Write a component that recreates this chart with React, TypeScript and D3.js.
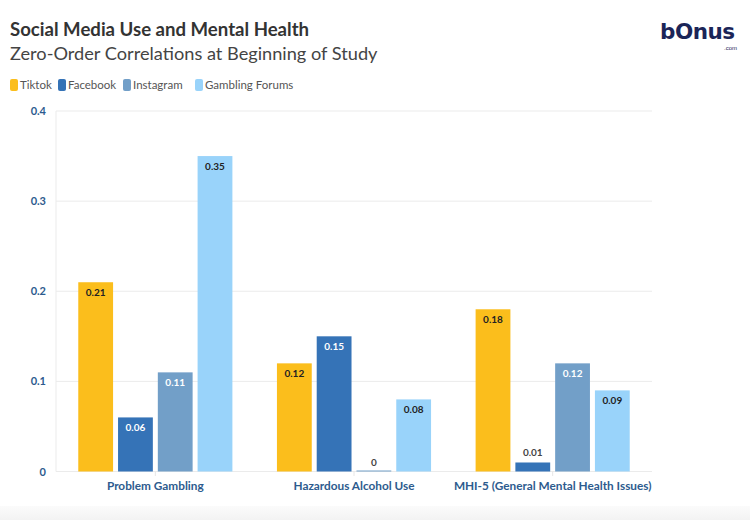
import React, { useEffect } from "react";
import * as d3 from "d3";

const categories = ["Problem Gambling", "Hazardous Alcohol Use", "MHI-5 (General Mental Health Issues)"];
const seriesNames = ["Tiktok", "Facebook", "Instagram", "Gambling Forums"];
const tiktok = [0.21, 0.12, 0.18];
const facebook = [0.06, 0.15, 0.01];
const instagram = [0.11, 0, 0.12];
const gamblingForums = [0.35, 0.08, 0.09];
const yTicks = [0, 0.1, 0.2, 0.3, 0.4];

const colors = ["#FBBE1C", "#3573B7", "#729FC8", "#99D3FA"];
const labelColors = ["#222", "#fff", "#fff", "#222"];

const W = 750;
const H = 520;
const FONT = "Lato, 'Open Sans', sans-serif";

export default function App() {
  useEffect(() => {
    document.body.style.margin = "0";
  }, []);
  const series = [tiktok, facebook, instagram, gamblingForums];
  const x0 = d3.scaleBand<string>().domain(categories).range([56, 652]);
  const x1 = d3
    .scaleBand<string>()
    .domain(seriesNames)
    .range([0, x0.bandwidth()])
    .paddingInner(0.125)
    .paddingOuter(0.56);
  const y = d3.scaleLinear().domain([0, 0.4]).range([471.5, 111]);

  return (
    <svg width={W} height={H} style={{ display: "block", background: "#fff" }}>
      <defs>
        <linearGradient id="bot" x1="0" y1="0" x2="0" y2="1">
          <stop offset="0" stopColor="#fbfbfb" />
          <stop offset="1" stopColor="#f3f3f3" />
        </linearGradient>
      </defs>
      <rect x={0} y={506} width={W} height={14} fill="url(#bot)" />
      <text x={10} y={36} fontFamily={FONT} fontWeight={700} fontSize={18.6} fill="#333">
        Social Media Use and Mental Health
      </text>
      <text x={10} y={60} fontFamily={FONT} fontSize={18.2} fill="#444">
        Zero-Order Correlations at Beginning of Study
      </text>
      {/* logo */}
      <text x={660} y={39} fontFamily="'DejaVu Sans', sans-serif" fontWeight={700} fontSize={21.5} fill="#1B2558" letterSpacing={-0.5}>
        bOnus
      </text>
      <text x={737} y={50} fontFamily="Arial, sans-serif" fontSize={6} fill="#1B2558" textAnchor="end">
        .com
      </text>
      {/* legend */}
      {(() => {
        const xs = [10, 58, 123, 195];
        return seriesNames.map((s, i) => (
          <g key={s}>
            <rect x={xs[i]} y={79} width={8} height={12} rx={2} fill={colors[i]} />
            <text x={xs[i] + 10} y={89} fontFamily={FONT} fontSize={11.5} fill="#555">
              {s}
            </text>
          </g>
        ));
      })()}
      {/* grid */}
      {yTicks.map((t) => (
        <g key={t}>
          <line x1={56} x2={652} y1={y(t)} y2={y(t)} stroke="#ebebeb" strokeWidth={1} />
          <text x={46} y={y(t) + 4} textAnchor="end" fontFamily={FONT} fontWeight={700} fontSize={11} fill="#2D5B8E">
            {t === 0 ? "0" : d3.format(".1f")(t)}
          </text>
        </g>
      ))}
      <line x1={56} x2={56} y1={111} y2={471.5} stroke="#ebebeb" />
      {categories.map((c) => (
        <g key={c}>
          <line x1={x0(c)! + x0.bandwidth() / 2} x2={x0(c)! + x0.bandwidth() / 2} y1={471.5} y2={476} stroke="#e6e6e6" />
          <text
            x={x0(c)! + x0.bandwidth() / 2}
            y={490}
            textAnchor="middle"
            fontFamily={FONT}
            fontWeight={700}
            fontSize={11.8}
            fill="#2D5B8E"
          >
            {c}
          </text>
        </g>
      ))}
      {/* bars */}
      {categories.map((c, ci) =>
        seriesNames.map((s, si) => {
          const v = series[si][ci];
          const bx = x0(c)! + x1(s)!;
          const bw = x1.bandwidth();
          const top = y(v);
          const h = Math.max(y(0) - top, 1);
          const inside = y(0) - top > 25;
          return (
            <g key={c + s}>
              <rect x={bx} y={y(0) - h} width={bw} height={h} fill={colors[si]} />
              <text
                x={bx + bw / 2}
                y={inside ? top + 14 : top - 6}
                textAnchor="middle"
                fontFamily={FONT}
                fontWeight={700}
                fontSize={10}
                fill={inside ? labelColors[si] : "#444"}
              >
                {v === 0 ? "0" : d3.format(".2f")(v)}
              </text>
            </g>
          );
        })
      )}
    </svg>
  );
}
